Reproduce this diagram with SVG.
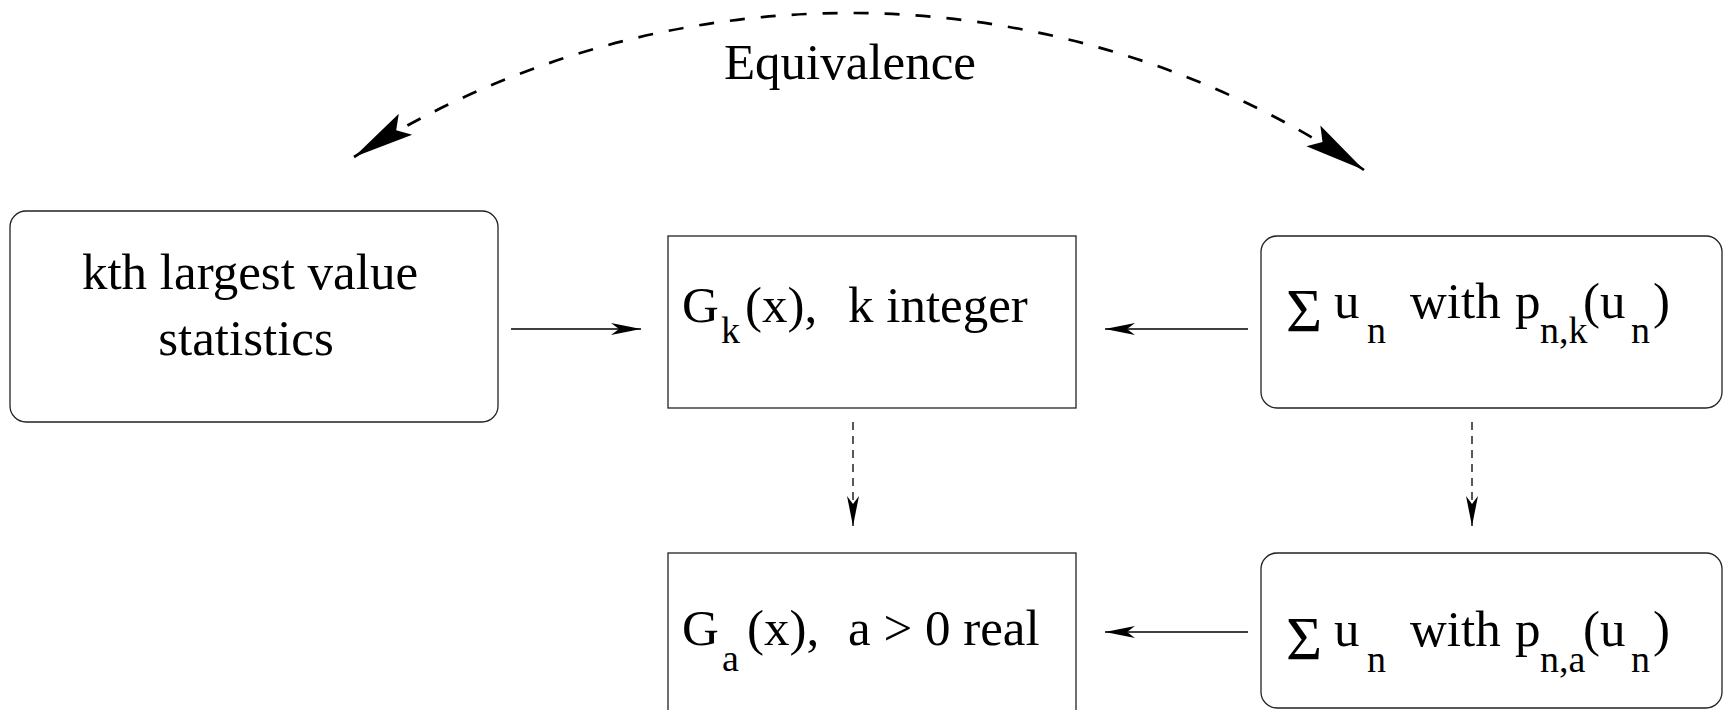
<svg xmlns="http://www.w3.org/2000/svg" width="1724" height="710" viewBox="0 0 1724 710">
<style>
  .box { fill: #ffffff; stroke: #222222; stroke-width: 1.3; }
  .t { font-family: 'Liberation Serif', 'Times New Roman', Times, 'DejaVu Serif', serif; font-size: 51px; fill: #000000; }
  .sub { font-size: 38px; }
  .sig { font-size: 62px; }
  .thin { fill: none; stroke: #000000; stroke-width: 1.3; }
  .dash { stroke-dasharray: 8 6; }
  .equiv { fill: none; stroke: #000000; stroke-width: 2.7; stroke-dasharray: 15 16; }
</style>
<defs>
  <marker id="head" markerUnits="userSpaceOnUse" orient="auto" refX="0" refY="0" markerWidth="34" markerHeight="14" viewBox="-32 -7 34 14" overflow="visible">
    <path d="M0,0 L-30,-6 L-22,0 L-30,6 Z" fill="#000000"/>
  </marker>
  <marker id="bighead" markerUnits="userSpaceOnUse" orient="auto-start-reverse" refX="0" refY="0" markerWidth="70" markerHeight="30" viewBox="-65 -15 70 30" overflow="visible">
    <path d="M0,0 L-61,-12.5 L-50,0 L-61,12.5 Z" fill="#000000"/>
  </marker>
</defs>
<rect width="1724" height="710" fill="#ffffff"/>

<g id="node-kth">
  <rect class="box" x="10" y="211" width="488" height="211" rx="16" ry="16"/>
  <text class="t" font-family="Liberation Serif, serif" x="250" y="289" text-anchor="middle">kth largest value</text>
  <text class="t" font-family="Liberation Serif, serif" x="246" y="355" text-anchor="middle">statistics</text>
</g>

<g id="node-gk">
  <rect class="box" x="668" y="236" width="408" height="172"/>
  <text class="t" font-family="Liberation Serif, serif"><tspan x="682" y="322">G</tspan><tspan class="sub" x="721" y="343">k</tspan><tspan x="745" y="322">(x),</tspan><tspan x="848" y="322">k integer</tspan></text>
</g>

<g id="node-sum-k">
  <rect class="box" x="1261" y="236" width="461" height="172" rx="16" ry="16"/>
  <text class="t" font-family="Liberation Serif, serif"><tspan class="sig" x="1286" y="331">Σ</tspan><tspan x="1334" y="318">u</tspan><tspan class="sub" x="1367" y="343">n</tspan><tspan x="1410" y="318">with</tspan><tspan x="1515" y="318">p</tspan><tspan class="sub" x="1540" y="343">n,k</tspan><tspan x="1583" y="318">(u</tspan><tspan class="sub" x="1631" y="343">n</tspan><tspan x="1653" y="318">)</tspan></text>
</g>

<g id="node-ga">
  <rect class="box" x="668" y="553" width="408" height="200"/>
  <text class="t" font-family="Liberation Serif, serif"><tspan x="682" y="645">G</tspan><tspan class="sub" x="722" y="671">a</tspan><tspan x="747" y="645">(x),</tspan><tspan x="848" y="645">a &gt; 0 real</tspan></text>
</g>

<g id="node-sum-a">
  <rect class="box" x="1261" y="553" width="461" height="155" rx="16" ry="16"/>
  <text class="t" font-family="Liberation Serif, serif"><tspan class="sig" x="1286" y="659">Σ</tspan><tspan x="1334" y="646">u</tspan><tspan class="sub" x="1367" y="672">n</tspan><tspan x="1410" y="646">with</tspan><tspan x="1515" y="646">p</tspan><tspan class="sub" x="1540" y="672">n,a</tspan><tspan x="1583" y="646">(u</tspan><tspan class="sub" x="1631" y="672">n</tspan><tspan x="1653" y="646">)</tspan></text>
</g>

<g id="connectors">
  <line class="thin" x1="511" y1="329" x2="641" y2="329" marker-end="url(#head)"/>
  <line class="thin" x1="1248" y1="329" x2="1105" y2="329" marker-end="url(#head)"/>
  <line class="thin" x1="1248" y1="632" x2="1105" y2="632" marker-end="url(#head)"/>
  <line class="thin dash" x1="853" y1="422" x2="853" y2="526" marker-end="url(#head)"/>
  <line class="thin dash" x1="1472" y1="422" x2="1472" y2="526" marker-end="url(#head)"/>
  <path class="equiv" d="M354,157 A923,923 0 0 1 1364,170" marker-start="url(#bighead)" marker-end="url(#bighead)"/>
  <text class="t" font-family="Liberation Serif, serif" x="850" y="79" text-anchor="middle">Equivalence</text>
</g>
</svg>
